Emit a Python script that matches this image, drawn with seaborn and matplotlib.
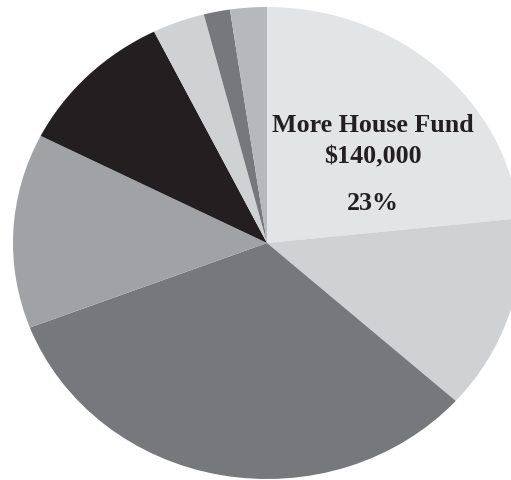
import matplotlib
matplotlib.use("Agg")
import matplotlib.pyplot as plt
import seaborn as sns

categories = ["More House Fund", "Slice B", "Slice C", "Slice D", "Slice E", "Slice F", "Slice G", "Slice H"]
values = [140000, 80000, 195000, 80000, 61000, 20000, 10000, 14000]
colors = ["#e3e4e6", "#d0d1d3", "#77787c", "#a1a2a6", "#231f20", "#d0d1d3", "#77787c", "#b7b8bb"]

sns.set_theme(style="white")
plt.rcParams['font.family'] = ['Liberation Serif', 'DejaVu Serif']

fig = plt.figure(figsize=(5.11, 4.81), dpi=100)
ax = fig.add_axes([0, 0, 1, 1])
ax.pie(values, colors=colors, startangle=90, counterclock=False,
       radius=1, wedgeprops=dict(linewidth=0))
ax.set_aspect('auto')
ax.set_xlim(-267/254, -267/254 + 511/254)
ax.set_ylim(-237/236, -237/236 + 481/236)
ax.axis('off')

total = sum(values)
pct = round(values[0] / total * 100)
tx = 0.417
ax.text(tx, 0.475, categories[0], ha='center', va='baseline', fontsize=18.7, fontweight='bold', color='#231f20')
ax.text(tx, 0.343, f"${values[0]:,}", ha='center', va='baseline', fontsize=18.7, fontweight='bold', color='#231f20')
ax.text(tx, 0.144, f"{pct}%", ha='center', va='baseline', fontsize=18.7, fontweight='bold', color='#231f20')

fig.savefig("out.png", dpi=100)
